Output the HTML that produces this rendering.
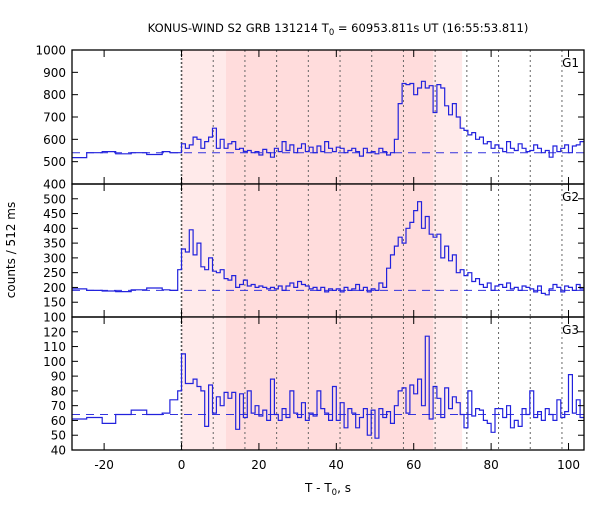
<!DOCTYPE html>
<html><head><meta charset="utf-8"><style>
body{margin:0;background:#fff}
svg text{font-family:"DejaVu Sans","Liberation Sans",sans-serif;fill:#000}
</style></head><body>
<svg id="c" width="600" height="500" viewBox="0 0 600 500" xmlns="http://www.w3.org/2000/svg">
<text x="338" y="32" font-size="11.5" text-anchor="middle">KONUS-WIND S2 GRB 131214 T<tspan font-size="8.5" dy="3">0</tspan><tspan dy="-3"> = 60953.811s UT (16:55:53.811)</tspan></text>
<text transform="translate(15,250) rotate(-90)" font-size="12" text-anchor="middle">counts / 512 ms</text>
<text x="328" y="492" font-size="12" text-anchor="middle">T - T<tspan font-size="8.5" dy="3">0</tspan><tspan dy="-3">, s</tspan></text>
</svg>
<script>
const tPre=[-28.3,-24.5,-20.5,-17,-13,-9,-5,-3,-1];
const g1Pre=[518,540,545,535,540,532,545,540,540];
const g2Pre=[195,190,188,186,192,198,192,190,260];
const g3Pre=[61,62,58,64,67,64,65,74,80];
const g1Post=[580,560,575,610,600,560,590,610,650,560,600,560,580,590,555,560,545,550,540,545,530,555,540,520,560,545,590,550,575,540,560,580,545,565,540,570,545,590,560,545,565,560,540,550,560,545,525,560,540,545,535,560,545,530,540,600,760,850,845,850,800,830,860,830,840,720,845,830,750,710,760,700,650,640,620,630,600,610,580,590,560,575,560,545,590,560,550,580,560,545,550,575,560,540,550,520,570,545,560,575,540,570,575,590];
const g2Post=[330,320,395,310,350,270,260,300,255,250,260,230,225,240,200,210,225,205,210,200,205,200,195,200,195,205,190,205,215,200,220,210,205,195,200,190,200,185,195,190,195,185,200,190,195,210,190,200,185,195,190,215,200,265,310,340,370,350,400,420,460,490,400,440,380,370,380,300,340,290,310,250,260,240,250,220,230,210,200,215,190,205,210,200,215,195,200,190,205,200,195,185,205,180,175,195,210,200,185,205,200,190,210,195];
const g3Post=[105,85,85,88,83,80,56,84,65,76,70,79,75,79,54,78,62,80,65,70,63,67,60,88,64,60,68,62,80,65,62,72,60,65,63,80,68,65,60,83,60,72,55,68,65,55,62,68,50,67,48,68,62,66,58,70,80,82,65,84,78,88,70,117,61,83,75,62,82,68,76,72,64,55,80,63,68,67,60,58,52,68,68,62,70,55,60,56,68,64,80,62,66,60,68,64,60,74,62,66,91,65,74,62];
const backgrounds=[540,190,64];
const xTicks=[-20,0,20,40,60,80,100];
const dottedLines=[8.192,16.384,24.576,32.768,40.96,49.152,57.344,65.536,73.728,81.92,90.112,98.304];
const panels=[
 {name:'G1',pre:g1Pre,post:g1Post,min:400,max:1000,ticks:[400,500,600,700,800,900,1000],top:50,bot:184,bg:backgrounds[0]},
 {name:'G2',pre:g2Pre,post:g2Post,min:100,max:550,ticks:[100,150,200,250,300,350,400,450,500],top:184,bot:317,bg:backgrounds[1]},
 {name:'G3',pre:g3Pre,post:g3Post,min:40,max:130,ticks:[40,50,60,70,80,90,100,110,120],top:317,bot:450,bg:backgrounds[2]}
];
const NS='http://www.w3.org/2000/svg';
const svg=document.getElementById('c');
const XL=72,XR=584,T0=-28.3,T1=104;
const xs=t=>XL+(t-T0)/(T1-T0)*(XR-XL);
function mk(tag,attrs,parent){const e=document.createElementNS(NS,tag);for(const k in attrs)e.setAttribute(k,attrs[k]);(parent||svg).appendChild(e);return e;}
panels.forEach((p,pi)=>{
 const ys=v=>p.bot-(v-p.min)/(p.max-p.min)*(p.bot-p.top);
 const g=mk('g',{});
 
 
 let r=mk('rect',{x:xs(0),y:p.top,width:xs(72.5)-xs(0),height:p.bot-p.top,fill:'#ffeaea'},g);
 
 r=mk('rect',{x:xs(11.5),y:p.top,width:xs(65)-xs(11.5),height:p.bot-p.top,fill:'#ffdcdc'},g);
 
 let l=mk('line',{x1:xs(0),x2:xs(0),y1:p.top,y2:p.bot,stroke:'#555','stroke-width':1.6,'stroke-dasharray':'2,2'},g);
 
 dottedLines.forEach(t=>{const d=mk('line',{x1:xs(t),x2:xs(t),y1:p.top,y2:p.bot,stroke:'#666','stroke-width':1,'stroke-dasharray':'2,3'},g);
  });
 l=mk('line',{x1:XL,x2:XR,y1:ys(p.bg),y2:ys(p.bg),stroke:'#3333dd','stroke-width':1,'stroke-dasharray':'8,6'},g);
 
 const edges=[],vals=[];
 tPre.forEach((t,i)=>{edges.push(t);vals.push(p.pre[i]);});
 p.post.forEach((v,i)=>{edges.push(i);vals.push(v);});
 edges.push(T1);
 let d='';
 vals.forEach((v,i)=>{const x0=xs(edges[i]),x1=xs(Math.min(edges[i+1],T1));const y=ys(v);d+=(i?'L':'M')+x0.toFixed(1)+','+y.toFixed(1)+'L'+x1.toFixed(1)+','+y.toFixed(1);});
 const h=mk('path',{d:d,fill:'none',stroke:'#2222dd','stroke-width':1.2},g);
 
 const fr=mk('rect',{x:XL,y:p.top,width:XR-XL,height:p.bot-p.top,fill:'none',stroke:'#000','stroke-width':1.3},g);
 
 p.ticks.forEach(v=>{const y=ys(v);
  mk('line',{x1:XL,x2:XL+6,y1:y,y2:y,stroke:'#000'},g);mk('line',{x1:XR-6,x2:XR,y1:y,y2:y,stroke:'#000'},g);
  const tx=mk('text',{x:XL-6,y:y+4.5,'font-size':12,'text-anchor':'end'},g);tx.textContent=v;
  
 });
 xTicks.forEach(t=>{const x=xs(t);mk('line',{x1:x,x2:x,y1:p.top,y2:p.top+7,stroke:'#000'},g);mk('line',{x1:x,x2:x,y1:p.bot-7,y2:p.bot,stroke:'#000'},g);});
 const lb=mk('text',{x:XR-5,y:p.top+17,'font-size':12,'text-anchor':'end'},g);lb.textContent=p.name;
 
});
xTicks.forEach(t=>{const tx=mk('text',{x:xs(t),y:469,'font-size':12,'text-anchor':'middle'});tx.textContent=t;
 });
</script>
</body></html>
